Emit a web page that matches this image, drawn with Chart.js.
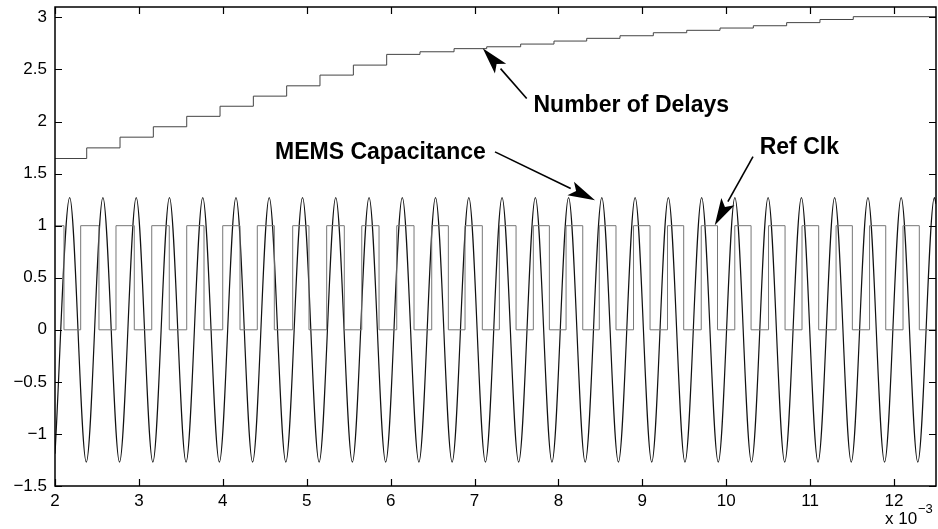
<!DOCTYPE html>
<html>
<head>
<meta charset="utf-8">
<script src="https://cdn.jsdelivr.net/npm/chart.js@4.4.1/dist/chart.umd.min.js"></script>
<style>
  html, body { margin: 0; padding: 0; background: #fff; }
  #wrap { width: 938px; height: 529px; }
</style>
</head>
<body>
<div id="wrap"><canvas id="chart" width="938" height="529"></canvas></div>
<script>
// Axis ticks (time in units of 1e-3 s)
const xTicks = [2, 3, 4, 5, 6, 7, 8, 9, 10, 11, 12];
const yTicks = [-1.5, -1, -0.5, 0, 0.5, 1, 1.5, 2, 2.5, 3];

// MEMS capacitance: times of the peaks / troughs
const memsTime = [2.0, 2.175, 2.373, 2.571, 2.769, 2.968, 3.166, 3.364, 3.562, 3.761, 3.959,
  4.157, 4.355, 4.553, 4.751, 4.950, 5.148, 5.346, 5.544, 5.743, 5.941, 6.139, 6.337,
  6.535, 6.733, 6.932, 7.130, 7.328, 7.526, 7.725, 7.923, 8.121, 8.319, 8.517, 8.715,
  8.914, 9.112, 9.310, 9.508, 9.707, 9.905, 10.103, 10.301, 10.499, 10.697, 10.896,
  11.094, 11.292, 11.490, 11.689, 11.887, 12.085, 12.283, 12.481, 12.5];
const memsValue = [-1.19, 1.27, -1.27, 1.27, -1.27, 1.27, -1.27, 1.27, -1.27, 1.27, -1.27,
  1.27, -1.27, 1.27, -1.27, 1.27, -1.27, 1.27, -1.27, 1.27, -1.27, 1.27, -1.27,
  1.27, -1.27, 1.27, -1.27, 1.27, -1.27, 1.27, -1.27, 1.27, -1.27, 1.27, -1.27,
  1.27, -1.27, 1.27, -1.27, 1.27, -1.27, 1.27, -1.27, 1.27, -1.27, 1.27,
  -1.27, 1.27, -1.27, 1.27, -1.27, 1.27, -1.27, 1.27, 1.21];

// Ref Clk: edge times and the level after each edge
const clkTime = [2.0, 2.107, 2.306, 2.524, 2.727, 2.945, 3.153, 3.362, 3.570, 3.776, 3.999,
  4.205, 4.411, 4.614, 4.833, 5.027, 5.238, 5.448, 5.656, 5.862, 6.073, 6.279, 6.490,
  6.688, 6.887, 7.093, 7.296, 7.495, 7.701, 7.892, 8.091, 8.290, 8.487, 8.686, 8.895,
  9.092, 9.300, 9.493, 9.702, 9.896, 10.102, 10.296, 10.504, 10.701, 10.903, 11.102,
  11.309, 11.503, 11.708, 11.901, 12.107, 12.301, 12.5];
const clkLevel = [1, 0, 1, 0, 1, 0, 1, 0, 1, 0, 1,
  0, 1, 0, 1, 0, 1, 0, 1, 0, 1, 0, 1,
  0, 1, 0, 1, 0, 1, 0, 1, 0, 1, 0, 1,
  0, 1, 0, 1, 0, 1, 0, 1, 0, 1, 0,
  1, 0, 1, 0, 1, 0, 0];

// Number of delays: step times and level after each step
const delayTime = [2.0, 2.378, 2.775, 3.172, 3.570, 3.967, 4.364, 4.761, 5.158, 5.556, 5.953,
  6.350, 6.756, 7.145, 7.550, 7.947, 8.337, 8.734, 9.131, 9.529, 9.926, 10.323, 10.720,
  11.117, 11.514, 12.5];
const delayLevel = [1.645, 1.747, 1.85, 1.95, 2.05, 2.147, 2.244, 2.343, 2.446, 2.542, 2.645,
  2.67, 2.70, 2.718, 2.744, 2.773, 2.799, 2.824, 2.853, 2.876, 2.898, 2.92, 2.95,
  2.98, 3.007, 3.007];

// Annotations: label position, arrow tail and arrow tip, in data units
const notes = [
  { text: "Number of Delays", x: 7.703, y: 2.093, tail: [7.622, 2.222], tip: [7.098, 2.703] },
  { text: "MEMS Capacitance", x: 4.622, y: 1.645, tail: [7.244, 1.709], tip: [8.436, 1.244] },
  { text: "Ref Clk", x: 10.399, y: 1.693, tail: [10.319, 1.664], tip: [9.863, 1.004] },
];

const toPoints = (xs, ys) => xs.map((x, i) => ({ x, y: ys[i] }));

// box with inward ticks, arrows, labels, exponent
const framePlugin = {
  id: "frame",
  afterDatasetsDraw(chart) {
    const { ctx, chartArea: a, scales } = chart;
    const sx = scales.x, sy = scales.y;
    ctx.save();
    ctx.strokeStyle = "#000";
    ctx.lineWidth = 1.5;
    ctx.strokeRect(a.left, a.top, a.right - a.left, a.bottom - a.top);
    ctx.lineWidth = 1.2;
    ctx.beginPath();
    xTicks.forEach((v) => {
      const px = Math.round(sx.getPixelForValue(v)) + 0.5;
      ctx.moveTo(px, a.bottom); ctx.lineTo(px, a.bottom - 7);
      ctx.moveTo(px, a.top); ctx.lineTo(px, a.top + 7);
    });
    yTicks.forEach((v) => {
      const py = Math.round(sy.getPixelForValue(v)) + 0.5;
      ctx.moveTo(a.left, py); ctx.lineTo(a.left + 7, py);
      ctx.moveTo(a.right, py); ctx.lineTo(a.right - 7, py);
    });
    ctx.stroke();

    // annotations
    ctx.fillStyle = "#000";
    ctx.font = "bold 23px 'Liberation Sans', Arial, sans-serif";
    ctx.textBaseline = "alphabetic";
    notes.forEach((n) => {
      ctx.fillText(n.text, sx.getPixelForValue(n.x), sy.getPixelForValue(n.y));
      const x0 = sx.getPixelForValue(n.tail[0]), y0 = sy.getPixelForValue(n.tail[1]);
      const x1 = sx.getPixelForValue(n.tip[0]), y1 = sy.getPixelForValue(n.tip[1]);
      const ang = Math.atan2(y1 - y0, x1 - x0);
      const len = 27, half = 7.5;
      const bx = x1 - len * Math.cos(ang), by = y1 - len * Math.sin(ang);
      ctx.lineWidth = 1.6;
      ctx.beginPath();
      ctx.moveTo(x0, y0);
      ctx.lineTo(bx, by);
      ctx.stroke();
      ctx.beginPath();
      ctx.moveTo(x1, y1);
      ctx.lineTo(bx + half * Math.sin(ang), by - half * Math.cos(ang));
      ctx.lineTo(x1 - (len - 6) * Math.cos(ang), y1 - (len - 6) * Math.sin(ang));
      ctx.lineTo(bx - half * Math.sin(ang), by + half * Math.cos(ang));
      ctx.closePath();
      ctx.fill();
    });

    // x 10^-3
    ctx.font = "17px 'Liberation Sans', Arial, sans-serif";
    ctx.fillText("x 10", a.right - 51, a.bottom + 38);
    ctx.font = "13px 'Liberation Sans', Arial, sans-serif";
    ctx.fillText("\u22123", a.right - 18, a.bottom + 27);
    ctx.restore();
  },
};

const tickFont = { family: "'Liberation Sans', Arial, sans-serif", size: 17 };

// stepped "before": hold the previous level, then jump at the point
const chart = new Chart(document.getElementById("chart"), {
  type: "line",
  data: {
    datasets: [
      {
        label: "Number of Delays",
        data: toPoints(delayTime, delayLevel),
        stepped: "before",
        borderColor: "#444",
        borderWidth: 1,
        pointRadius: 0,
      },
      {
        label: "Ref Clk",
        data: toPoints(clkTime, clkLevel),
        stepped: "before",
        borderColor: "#777",
        borderWidth: 1,
        pointRadius: 0,
      },
      {
        label: "MEMS Capacitance",
        data: toPoints(memsTime, memsValue),
        cubicInterpolationMode: "monotone",
        borderColor: "#111",
        borderWidth: 1.2,
        pointRadius: 0,
      },
    ],
  },
  options: {
    responsive: false,
    animation: false,
    layout: { padding: { top: 7, right: 2, left: 0, bottom: 0 } },
    plugins: { legend: { display: false }, tooltip: { enabled: false } },
    scales: {
      x: {
        type: "linear",
        min: 2,
        max: 12.5,
        grid: { display: false, drawTicks: false },
        border: { display: false },
        afterBuildTicks: (s) => { s.ticks = xTicks.map((v) => ({ value: v })); },
        afterFit: (s) => { s.height = 43; s.paddingLeft = 0; s.paddingRight = 0; },
        ticks: { padding: 5, color: "#000", maxRotation: 0, font: tickFont },
      },
      y: {
        type: "linear",
        min: -1.5,
        max: 3.1,
        grid: { display: false, drawTicks: false },
        border: { display: false },
        afterBuildTicks: (s) => { s.ticks = yTicks.map((v) => ({ value: v })); },
        afterFit: (s) => { s.width = 55; s.paddingTop = 0; s.paddingBottom = 0; },
        ticks: {
          padding: 8,
          color: "#000",
          font: tickFont,
          callback: (v) => String(v).replace("-", "\u2212"),
        },
      },
    },
  },
  plugins: [framePlugin],
});
</script>
</body>
</html>
